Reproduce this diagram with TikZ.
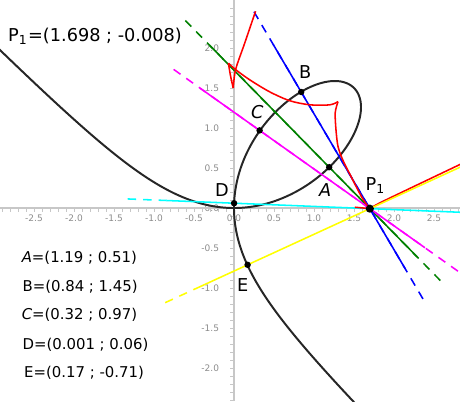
\documentclass[tikz,border=0pt]{standalone}
\usepackage{fontspec}
\setmainfont{DejaVu Sans}
\usetikzlibrary{calc}

\definecolor{ggGreen}{RGB}{0,128,0}
\definecolor{ggBlue}{RGB}{0,0,255}
\definecolor{ggMagenta}{RGB}{255,0,255}
\definecolor{ggCyan}{RGB}{0,255,255}
\definecolor{ggYellow}{RGB}{255,255,0}
\definecolor{ggRed}{RGB}{255,0,0}

\providecommand{\colorAxis}{black!22}
\providecommand{\colorAxisText}{black!45}
\providecommand{\colorCurve}{black!85}
\providecommand{\colorLineA}{ggGreen}
\providecommand{\colorLineB}{ggBlue}
\providecommand{\colorLineC}{ggMagenta}
\providecommand{\colorLineD}{ggCyan}
\providecommand{\colorLineE}{ggYellow}
\providecommand{\colorPolar}{ggRed}
\providecommand{\seclinewidth}{0.55pt}
\providecommand{\curvelinewidth}{0.7pt}

\begin{document}
\begin{tikzpicture}[
    x=1cm, y=1cm,
    declare function={folr(\t)=3*sin(\t)*cos(\t)/(sin(\t)*sin(\t)*sin(\t)+cos(\t)*cos(\t)*cos(\t));},
    % Axis styles
    axis_line/.style={draw=\colorAxis, line width=0.6pt},
    axis_tick/.style={draw=\colorAxis, line width=0.35pt},
    axis_label/.style={
        text=\colorAxisText,
        font=\fontsize{3.2}{4}\selectfont,
        inner sep=0pt
    },
    % Curve and line styles
    cubic_curve/.style={draw=\colorCurve, line width=\curvelinewidth},
    polar_curve/.style={draw=\colorPolar, line width=\seclinewidth},
    sec_line/.style={line width=\seclinewidth},
    ext_line/.style={line width=\seclinewidth, dash pattern=on 3pt off 2.5pt},
    % Point styles
    pt_dot/.style={circle, fill=black, inner sep=0pt, minimum size=2.3pt},
    pole_dot/.style={circle, fill=black, inner sep=0pt, minimum size=2.9pt},
    pt_label/.style={font=\fontsize{6.3}{7}\selectfont, inner sep=0pt},
    coord_text/.style={
        font=\fontsize{5.3}{6}\selectfont,
        anchor=west,
        inner sep=0pt
    },
    title_text/.style={
        font=\fontsize{6.3}{7}\selectfont,
        anchor=west,
        inner sep=0pt
    }
]

    % ==================== FRAME ====================
    \useasboundingbox (-2.925,-2.4125) rectangle (2.825,2.6);
    \clip (-2.925,-2.4125) rectangle (2.825,2.6);

    % ==================== AXES ====================
    \foreach \k in {-29,...,28}
        \draw[axis_tick] (\k/10,0) -- (\k/10,-0.05);
    \foreach \k in {-24,...,25}
        \draw[axis_tick] (0,\k/10) -- (-0.05,\k/10);
    \foreach \v in {-2.5,-2.0,-1.5,-1.0,-0.5,0.0,0.5,1.0,1.5,2.0,2.5}
        \node[axis_label] (xl\v) at (\v,-0.125) {\v};
    \foreach \v in {-2.0,-1.5,-1.0,-0.5,0.0,0.5,1.0,1.5,2.0}
        \node[axis_label, anchor=east] (yl\v) at (-0.18,\v) {\v};
    \coordinate (xmin) at (-2.925,0);
    \coordinate (xmax) at (2.825,0);
    \coordinate (ymin) at (0,-2.4125);
    \coordinate (ymax) at (0,2.6);
    \draw[axis_line] (xmin) -- (xmax);
    \draw[axis_line] (ymin) -- (ymax);

    % ==================== FOLIUM x^3+y^3=3xy ====================
    \draw[cubic_curve] plot[domain=-36:126, samples=320, variable=\t]
        ({folr(\t)*cos(\t)}, {folr(\t)*sin(\t)});

    % Points on the curve and the pole
    \coordinate (P1) at (1.698,-0.008);
    \coordinate (A) at (1.19,0.51);
    \coordinate (B) at (0.84,1.45);
    \coordinate (C) at (0.32,0.97);
    \coordinate (D) at (0.001,0.06);
    \coordinate (E) at (0.17,-0.71);

    % ==================== LINES THROUGH P1 ====================
    % Line through A (green)
    \coordinate (a_dash1) at ($(P1)!4.54!(A)$);
    \coordinate (a_dash2) at ($(P1)!-1.85!(A)$);
    \coordinate (a_full1) at ($(P1)!3.95!(A)$);
    \coordinate (a_full2) at ($(P1)!-1.165!(A)$);
    \draw[ext_line, draw=\colorLineA] (a_dash1) -- (a_dash2);
    \draw[sec_line, draw=\colorLineA] (a_full1) -- (a_full2);

    % Line through C (magenta)
    \coordinate (c_dash1) at ($(P1)!1.78!(C)$);
    \coordinate (c_dash2) at ($(P1)!-0.85!(C)$);
    \coordinate (c_full1) at ($(P1)!1.54!(C)$);
    \coordinate (c_full2) at ($(P1)!-0.50!(C)$);
    \draw[ext_line, draw=\colorLineC] (c_dash1) -- (c_dash2);
    \draw[sec_line, draw=\colorLineC] (c_full1) -- (c_full2);

    % Line through B (blue)
    \coordinate (b_dash1) at ($(P1)!1.688!(B)$);
    \coordinate (b_dash2) at ($(P1)!-0.807!(B)$);
    \coordinate (b_full1) at ($(P1)!1.408!(B)$);
    \coordinate (b_full2) at ($(P1)!-0.515!(B)$);
    \draw[ext_line, draw=\colorLineB] (b_dash1) -- (b_dash2);
    \draw[sec_line, draw=\colorLineB] (b_full1) -- (b_full2);

    % Line through D (cyan)
    \coordinate (d_dash1) at ($(P1)!1.784!(D)$);
    \coordinate (d_full1) at ($(P1)!1.496!(D)$);
    \coordinate (d_full2) at ($(P1)!-0.72!(D)$);
    \draw[ext_line, draw=\colorLineD] (d_dash1) -- (d_full1);
    \draw[sec_line, draw=\colorLineD] (d_full1) -- (d_full2);

    % ==================== RED CURVE ====================
    \draw[polar_curve] plot[smooth] coordinates
        {(0.27,2.46) (0.13,2.05) (0.02,1.73) (-0.01,1.5)};
    \draw[polar_curve] plot[smooth] coordinates
        {(-0.01,1.5) (-0.045,1.66) (-0.07,1.81)};
    \draw[polar_curve] plot[smooth] coordinates
        {(-0.07,1.81) (0.02,1.73) (0.2,1.6) (0.45,1.45) (0.7,1.34)
         (0.95,1.29) (1.2,1.29) (1.3,1.33)};
    \draw[polar_curve] plot[smooth] coordinates
        {(1.3,1.33) (1.265,1.19) (1.275,0.975) (1.3,0.77) (1.36,0.6)
         (1.46,0.4) (1.6,0.13) (1.698,-0.008)};
    \coordinate (red_stub) at (1.51,0.01);
    \draw[polar_curve] (red_stub) -- (P1);
    \draw[polar_curve] plot[smooth] coordinates
        {(1.698,-0.008) (1.825,0.065) (2.24,0.265) (2.9,0.58)};

    % Line through E (yellow)
    \coordinate (e_dash1) at ($(P1)!1.674!(E)$);
    \coordinate (e_full1) at ($(P1)!1.389!(E)$);
    \coordinate (e_full2) at ($(P1)!-0.79!(E)$);
    \draw[ext_line, draw=\colorLineE] (e_dash1) -- (e_full1);
    \draw[sec_line, draw=\colorLineE] (e_full1) -- (e_full2);

    % ==================== POINTS ====================
    \node[pt_dot] (ptA) at (A) {};
    \node[pt_dot] (ptB) at (B) {};
    \node[pt_dot] (ptC) at (C) {};
    \node[pt_dot] (ptD) at (D) {};
    \node[pt_dot] (ptE) at (E) {};
    \node[pole_dot] (ptP) at (P1) {};

    \node[pt_label] (lblA) at (1.14,0.225) {\textit{A}};
    \node[pt_label] (lblB) at (0.89,1.70) {B};
    \node[pt_label] (lblC) at (0.29,1.20) {\textit{C}};
    \node[pt_label] (lblD) at (-0.15,0.225) {D};
    \node[pt_label] (lblE) at (0.11,-0.96) {E};
    \node[pt_label] (lblP) at (1.77,0.28) {P\textsubscript{1}};

    % ==================== TEXTS ====================
    \node[title_text] (valP) at (-2.83,2.15) {P\textsubscript{1}=(1.698 ; -0.008)};

    \node[coord_text] (valA) at (-2.66,-0.625) {\textit{A}=(1.19 ; 0.51)};
    \node[coord_text] (valB) at (-2.65,-0.985) {B=(0.84 ; 1.45)};
    \node[coord_text] (valC) at (-2.66,-1.34) {\textit{C}=(0.32 ; 0.97)};
    \node[coord_text] (valD) at (-2.65,-1.71) {D=(0.001 ; 0.06)};
    \node[coord_text] (valE) at (-2.63,-2.06) {E=(0.17 ; -0.71)};

\end{tikzpicture}
\end{document}
